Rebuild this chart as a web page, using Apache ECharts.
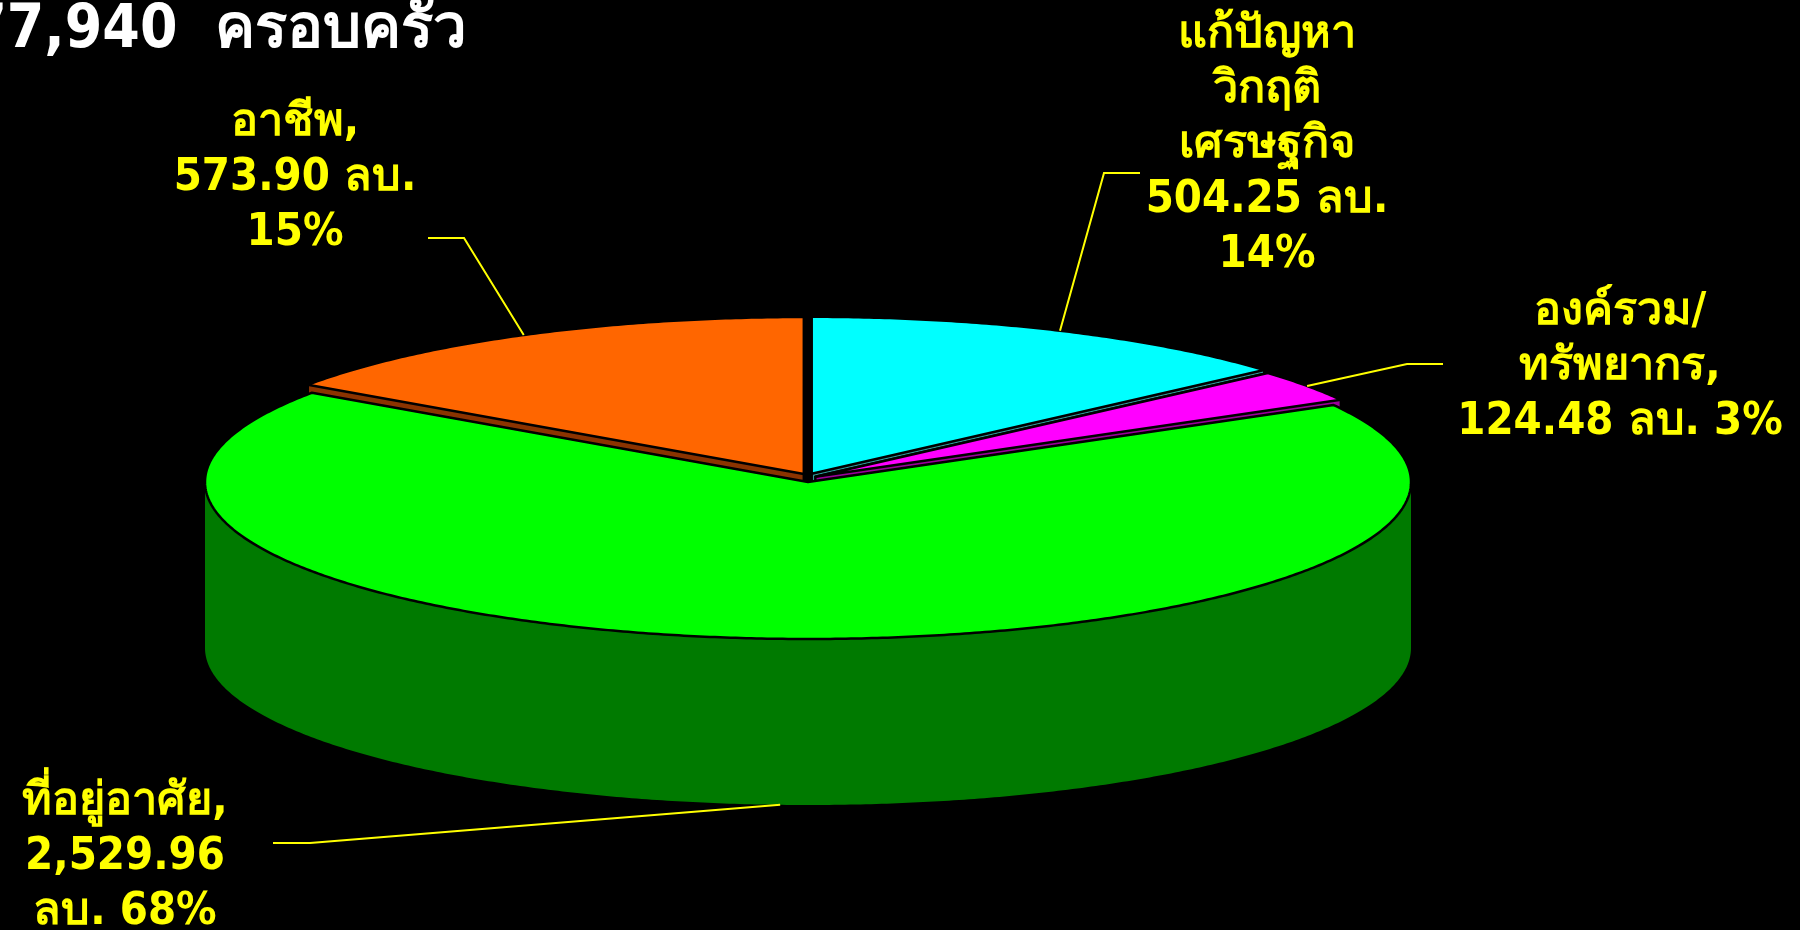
<!DOCTYPE html>
<html><head><meta charset="utf-8">
<script src="https://cdn.jsdelivr.net/npm/echarts@6/dist/echarts.min.js"></script>
<style>html,body{margin:0;padding:0;background:#000;overflow:hidden}#c{width:1800px;height:930px}</style>
</head><body><div id="c"></div>
<script>
// ---- data ----
const categories = ['แก้ปัญหาวิกฤติเศรษฐกิจ', 'องค์รวม/ทรัพยากร', 'ที่อยู่อาศัย', 'อาชีพ'];
const values = [504.25, 124.48, 2529.96, 573.90];
const labelTemplates = [
  'แก้ปัญหา\nวิกฤติ\nเศรษฐกิจ\n{v} ลบ.\n{p}%',
  'องค์รวม/\nทรัพยากร,\n{v} ลบ. {p}%',
  'ที่อยู่อาศัย,\n{v}\nลบ. {p}%',
  'อาชีพ,\n{v} ลบ.\n{p}%'
];
const titleText = '77,940  ครอบครัว';

// ---- style / layout ----
const topColors = ['#00FFFF', '#FF00FF', '#00FF00', '#FF6600'];
const sideColors = ['#2E9A9A', '#990099', '#007A00', '#8B3300'];
const isBase = [false, false, true, false];
const labelPos = [[1267, 145], [1620, 367], [125, 857], [295, 178]];
const elbowPos = [[1104, 173], [1407, 364], [310, 843], [464, 238]];
const endPos = [[1140, 173], [1443, 364], [273, 843], [428, 238]];
const CX = 808, CY = 482, RX = 603, RY = 157, DEPTH = 166, EX = 9, EY = 9, SIDE = 12;
const FONT = '"DejaVu Sans Condensed", Tahoma, "DejaVu Sans", sans-serif';

const total = values.reduce((a, b) => a + b, 0);
const cumBefore = values.map((v, i) => values.slice(0, i).reduce((a, b) => a + b, 0));

function rim(t, off) { return [CX + RX * Math.sin(t) + off[0], CY - RY * Math.cos(t) + off[1]]; }
function arcPts(a0, a1, off, dy) {
  const n = Math.max(2, Math.ceil((a1 - a0) / (Math.PI / 360)));
  const out = [];
  for (let k = 0; k <= n; k++) { const p = rim(a0 + (a1 - a0) * k / n, off); out.push([p[0], p[1] + (dy || 0)]); }
  return out;
}
function hull(points) {
  const p = points.slice().sort((a, b) => a[0] - b[0] || a[1] - b[1]);
  const cross = (o, a, b) => (a[0] - o[0]) * (b[1] - o[1]) - (a[1] - o[1]) * (b[0] - o[0]);
  const lo = [], up = [];
  for (const q of p) { while (lo.length >= 2 && cross(lo[lo.length - 2], lo[lo.length - 1], q) <= 0) lo.pop(); lo.push(q); }
  for (let i = p.length - 1; i >= 0; i--) { const q = p[i]; while (up.length >= 2 && cross(up[up.length - 2], up[up.length - 1], q) <= 0) up.pop(); up.push(q); }
  up.pop(); lo.pop();
  return lo.concat(up);
}
function fmt(v) { return v.toLocaleString('en-US', { minimumFractionDigits: 2, maximumFractionDigits: 2 }); }

function renderItem(params, api) {
  const i = params.dataIndex;
  const v = api.value(0);
  const a0 = 2 * Math.PI * cumBefore[i] / total;
  const a1 = a0 + 2 * Math.PI * v / total;
  const m = (a0 + a1) / 2;
  const children = [];
  let anchor;
  if (isBase[i]) {
    const off = [0, 0];
    const ws = Math.max(a0, Math.PI / 2), we = Math.min(a1, 3 * Math.PI / 2);
    if (we > ws) {
      const topArc = arcPts(ws, we, off, 0);
      const botArc = arcPts(ws, we, off, DEPTH).reverse();
      children.push({ type: 'polygon', z2: 1, shape: { points: topArc.concat(botArc) },
        style: { fill: sideColors[i], stroke: null } });
    }
    const top = [[CX, CY]].concat(arcPts(a0, a1, off, 0));
    children.push({ type: 'polygon', z2: 3, shape: { points: top },
      style: { fill: topColors[i], stroke: '#000', lineWidth: 2.5, lineJoin: 'round' } });
    const r = rim(m, off); anchor = [r[0], r[1] + DEPTH];
  } else {
    const off = [EX * Math.sin(m), -EY * Math.cos(m)];
    const top = [[CX + off[0], CY + off[1]]].concat(arcPts(a0, a1, off, 0));
    const shifted = top.map(p => [p[0], p[1] + SIDE]);
    children.push({ type: 'polygon', z2: 2, shape: { points: hull(top.concat(shifted)) },
      style: { fill: sideColors[i], stroke: '#000', lineWidth: 2.5, lineJoin: 'round' } });
    children.push({ type: 'polygon', z2: 4, shape: { points: top },
      style: { fill: topColors[i], stroke: '#000', lineWidth: 2.5, lineJoin: 'round' } });
    anchor = rim(m, off);
  }
  children.push({ type: 'polyline', z2: 5, shape: { points: [anchor, elbowPos[i], endPos[i]] },
    style: { stroke: '#FFFF00', lineWidth: 2, fill: null } });
  const txt = labelTemplates[i].replace('{v}', fmt(v)).replace('{p}', Math.round(v / total * 100));
  children.push({ type: 'text', z2: 6, x: labelPos[i][0], y: labelPos[i][1],
    style: { text: txt, fill: '#FFFF00', fontSize: 45, fontWeight: 'bold', fontFamily: FONT,
      align: 'center', verticalAlign: 'middle', lineHeight: 55 } });
  return { type: 'group', children };
}

const chart = echarts.init(document.getElementById('c'), null, { renderer: 'canvas' });
chart.setOption({
  backgroundColor: '#000',
  animation: false,
  graphic: [{ type: 'text', x: 467, y: 1, z: 10,
    style: { text: titleText, fill: '#FFFFFF', fontSize: 60, fontWeight: 'bold', fontFamily: FONT,
      align: 'right', verticalAlign: 'top' } }],
  series: [{
    type: 'custom', coordinateSystem: 'none', renderItem,
    data: values.map((v, i) => ({ name: categories[i], value: [v] }))
  }]
});
</script></body></html>
